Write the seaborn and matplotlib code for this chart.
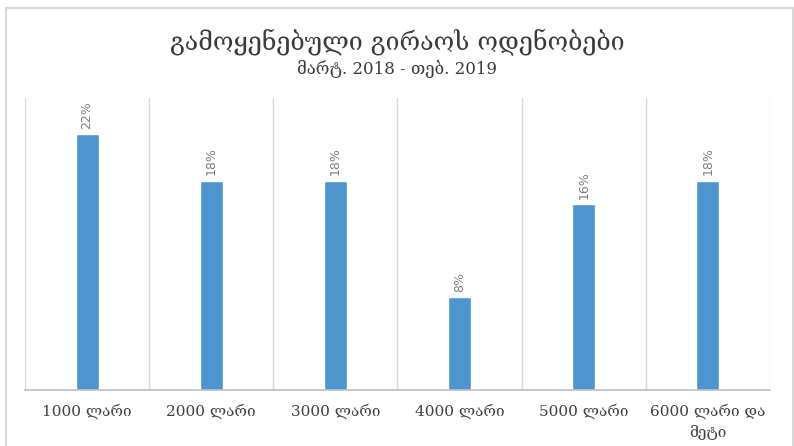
import matplotlib
matplotlib.use("Agg")
import matplotlib.pyplot as plt
import seaborn as sns
import pandas as pd
from matplotlib.patches import Rectangle

categories = ["1000 ლარი", "2000 ლარი", "3000 ლარი", "4000 ლარი", "5000 ლარი", "6000 ლარი და\nმეტი"]
shares = [22, 18, 18, 8, 16, 18]
value_labels = ["22%", "18%", "18%", "8%", "16%", "18%"]

title = "გამოყენებული გირაოს ოდენობები"
subtitle = "მარტ. 2018 - თებ. 2019"

sns.set_theme(style="white")
serif = ["DejaVu Serif", "DejaVu Sans"]
plt.rcParams["font.family"] = serif

df = pd.DataFrame({"category": categories, "share": shares})

fig = plt.figure(figsize=(7.94, 4.46), dpi=100)
ax = fig.add_axes([25 / 794, 56 / 446, 745 / 794, 292 / 446])

sns.barplot(data=df, x="category", y="share", color="#4F96D1", width=0.185,
            saturation=1, ax=ax)

ax.set_ylim(0, 25.1)
ax.set_xlim(-0.5, len(categories) - 0.5)

# vertical separators between categories
for i in range(len(categories) + 1):
    ax.axvline(i - 0.5, color="#d9d9d9", lw=1.0, zorder=0)

for i, (v, lab) in enumerate(zip(shares, value_labels)):
    ax.text(i, v + 0.45, lab, rotation=90, ha="center", va="bottom",
            fontsize=9, color="#7f7f7f", family="DejaVu Sans")

for s in ["top", "left", "right"]:
    ax.spines[s].set_visible(False)
ax.spines["bottom"].set_color("#bfbfbf")
ax.spines["bottom"].set_linewidth(1.2)

ax.set_yticks([])
ax.set_xlabel("")
ax.set_ylabel("")
ax.tick_params(axis="x", length=0, pad=10, labelsize=11, labelcolor="#404040")
for t in ax.get_xticklabels():
    t.set_family(serif)
    t.set_linespacing(1.5)

fig.text(0.5, 1 - 42 / 446, title, ha="center", va="center", fontsize=18,
         color="#3a3a3a", family=serif)
fig.text(0.5, 1 - 69 / 446, subtitle, ha="center", va="center", fontsize=12,
         color="#3a3a3a", family=serif)

# chart frame
fig.patches.append(Rectangle((6 / 794, -0.05), 787 / 794, 1 - 8 / 446 + 0.05,
                             transform=fig.transFigure, fill=False,
                             edgecolor="#d9d9d9", lw=1.5))

fig.savefig("out.png", dpi=100)
